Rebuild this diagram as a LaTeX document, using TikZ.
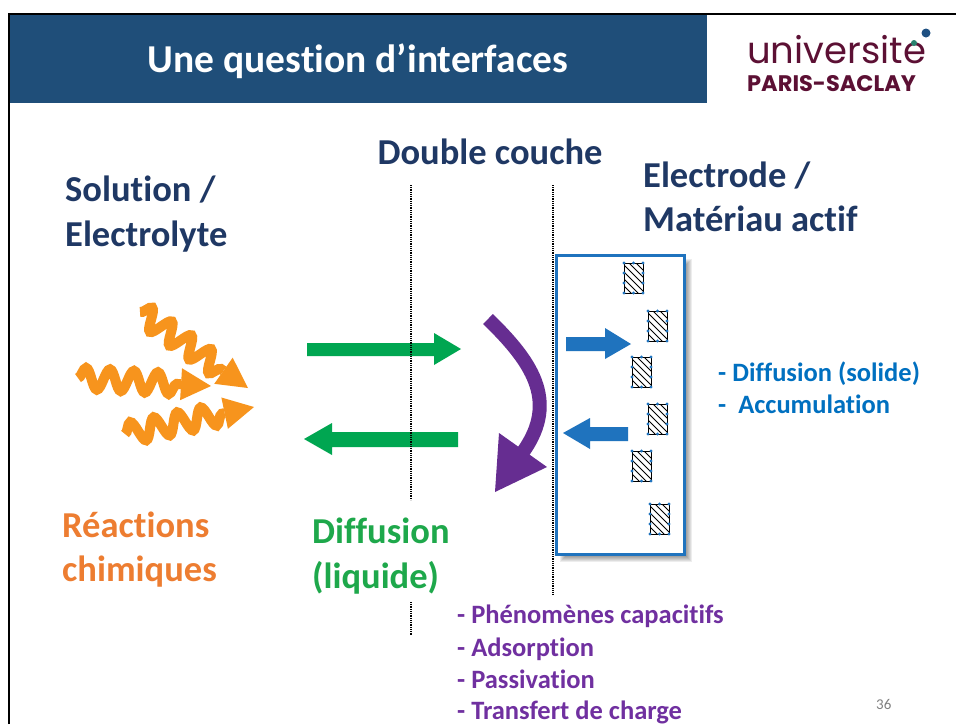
\documentclass[tikz,border=0pt]{standalone}
\usepackage{fontspec}
\setmainfont[Ligatures={NoCommon}]{Carlito}
\newfontfamily\logofont{Poppins}
\usetikzlibrary{calc,decorations.pathmorphing}

\definecolor{headerblue}{RGB}{31,78,121}
\definecolor{navy}{RGB}{31,56,100}
\definecolor{wavorange}{RGB}{247,148,29}
\definecolor{txtorange}{RGB}{237,125,49}
\definecolor{arrgreen}{RGB}{0,166,81}
\definecolor{txtgreen}{RGB}{30,168,75}
\definecolor{elecblue}{RGB}{31,115,190}
\definecolor{txtblue}{RGB}{0,112,192}
\definecolor{arrpurple}{RGB}{102,45,145}
\definecolor{txtpurple}{RGB}{112,48,160}
\definecolor{saclay}{RGB}{92,16,52}
\definecolor{dotblue}{RGB}{30,80,130}
\definecolor{dotteal}{RGB}{40,130,110}

\tikzset{
  lbl/.style={font=\bfseries\fontsize{36.5}{40}\selectfont, inner sep=0pt, anchor=base west},
  lst/.style={font=\bfseries\fontsize{26.5}{30}\selectfont, inner sep=0pt, anchor=base west},
  wave/.style={wavorange, line width=10pt, decorate,
    decoration={snake, amplitude=10.5pt, segment length=24pt}},
  interface/.style={line width=1.6pt, dash pattern=on 1pt off 0.8pt},
}

% orange wavy arrow from #1 to tip #2
\newcommand\wavearrow[2]{%
  \path ($(#2)!30pt!(#1)$) coordinate (wb);
  \draw[wave] (#1) -- (wb);
  \fill[wavorange] (#2) -- ($(wb)!16pt!90:(#2)$) -- ($(wb)!16pt!-90:(#2)$) -- cycle;
}

% hatched particle with its blue handles, top-left corner (#1,#2)
\newcommand\hatchcell[2]{%
  \begin{scope}
    \clip (#1,#2) rectangle ++(19,30);
    \foreach \k in {-30,-23,...,19}
      \draw[line width=0.8pt] (#1+\k,#2) -- ++(35,35);
  \end{scope}
  \draw[line width=0.9pt] (#1,#2) rectangle ++(19,30);
  \foreach \dx/\dy in {0/0,9.5/0,19/0,0/10,0/20,19/10,19/20,0/30,9.5/30,19/30}
    \fill[elecblue] (#1+\dx,#2+\dy) circle (1.7pt);
}

\begin{document}
\begin{tikzpicture}[x=1pt,y=-1pt]
\useasboundingbox (0,0) rectangle (956,724);
\fill[white] (0,0) rectangle (956,724);

% header band
\fill[headerblue] (10,15) rectangle (707,103);
\draw[line width=2.2pt] (9,724) -- (9,14) -- (956,14);
\node[font=\bfseries\fontsize{39.5}{44}\selectfont, text=white, inner sep=0pt, anchor=base]
  (title) at (358,72) {Une question d’interfaces};

% logo
\node[font=\logofont\fontsize{37}{40}\selectfont, text=saclay, inner sep=0pt, anchor=base west]
  (logoA) at (747,63) {universite};
\node[font=\logofont\bfseries\fontsize{22.5}{24}\selectfont, text=saclay, inner sep=0pt, anchor=base west]
  (logoB) at (747,91) {PARIS-SACLAY};
\fill[dotblue] (926,33) circle (4.5pt);
\fill[dotteal] (914,43) circle (3pt);

% headings
\node[lbl, text=navy, anchor=base] (dc) at (490,164) {Double couche};
\node[lbl, text=navy] (sol1) at (65,201) {Solution /};
\node[lbl, text=navy] (sol2) at (65,246) {Electrolyte};
\node[lbl, text=navy] (ele1) at (643,187) {Electrode /};
\node[lbl, text=navy] (ele2) at (643,231) {Matériau actif};
\node[lbl, text=txtorange] (rc1) at (62,537) {Réactions};
\node[lbl, text=txtorange] (rc2) at (62,581) {chimiques};
\node[lbl, text=txtgreen] (df1) at (312,543) {Diffusion};
\node[lbl, text=txtgreen] (df2) at (312,588) {(liquide)};

% chemical reactions
\wavearrow{140,312}{248,388}
\wavearrow{78,378}{211,386}
\wavearrow{125,434}{254,407}

% liquid diffusion
\fill[arrgreen] (307,343) -- (434,343) -- (434,333) -- (461,349) -- (434,365) -- (434,356) -- (307,356) -- cycle;
\fill[arrgreen] (304,439) -- (332,423) -- (332,432) -- (458,432) -- (458,447) -- (332,447) -- (332,455) -- cycle;

% double layer boundaries
\coordinate (la) at (411,185);
\coordinate (lb) at (411,500);
\coordinate (lc) at (411,602);
\coordinate (ld) at (411,636);
\coordinate (ra) at (553,185);
\coordinate (rb) at (553,594);
\draw[interface] (la) -- (lb);
\draw[interface] (lc) -- (ld);
\draw[interface] (ra) -- (rb);

% electrode with soft shadow
\foreach \s in {0,...,6}
  \fill[black, opacity=0.07] (560+\s,259+\s) rectangle (692-\s,562-\s);
\node[draw=elecblue, line width=3pt, fill=white, minimum width=128pt, minimum height=299pt,
  inner sep=0pt, anchor=north west] (electrode) at (555,254) {};

\hatchcell{624}{263}
\hatchcell{648}{311}
\hatchcell{632}{357}
\hatchcell{648}{404}
\hatchcell{632}{451}
\hatchcell{650}{504}

% solid diffusion
\fill[elecblue] (566,337) -- (605,337) -- (605,328) -- (631,344) -- (605,359) -- (605,351) -- (566,351) -- cycle;
\fill[elecblue] (563,433) -- (590,418) -- (590,427) -- (628,427) -- (628,441) -- (590,441) -- (590,449) -- cycle;

% interface processes
\draw[arrpurple, line width=14pt] (488,319) .. controls (530,360) and (560,400) .. (523,452);
\fill[arrpurple] (499,433) -- (547,467) -- (495,492) -- cycle;

% lists
\node[lst, text=txtblue] (b1) at (718,381) {- Diffusion (solide)};
\node[lst, text=txtblue] (b2) at (718,413) {-\ \ Accumulation};
\node[lst, text=txtpurple] (p1) at (457,623) {- Phénomènes capacitifs};
\node[lst, text=txtpurple] (p2) at (457,656) {- Adsorption};
\node[lst, text=txtpurple] (p3) at (457,688) {- Passivation};
\node[lst, text=txtpurple] (p4) at (457,719) {- Transfert de charge};

% page number
\node[font=\fontsize{15}{17}\selectfont, text=gray, inner sep=0pt, anchor=base west] (pg) at (876,709) {36};
\end{tikzpicture}
\end{document}
